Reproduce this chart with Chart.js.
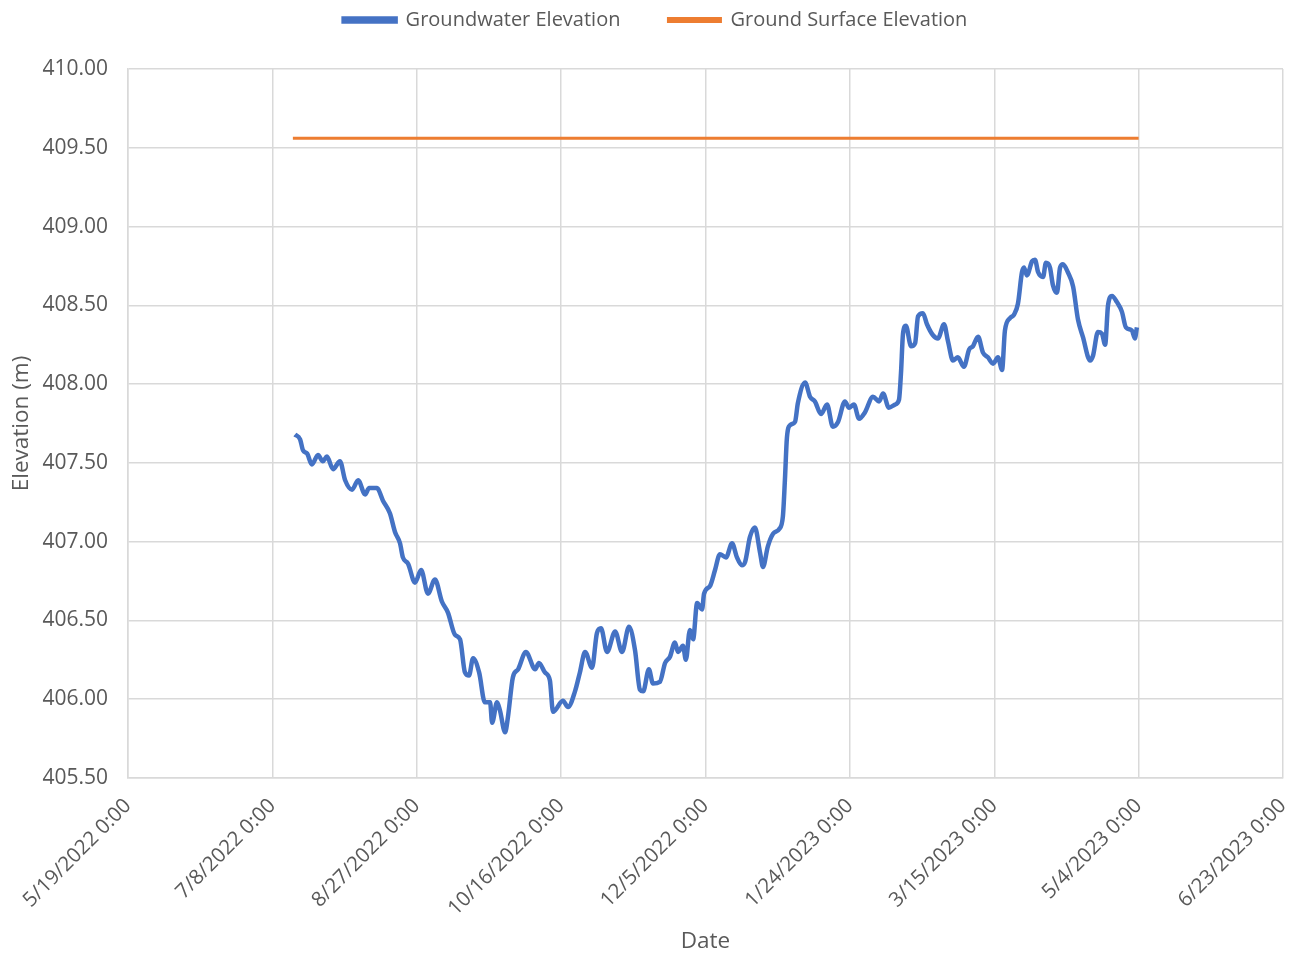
<!DOCTYPE html>
<html>
<head>
<meta charset="utf-8">
<title>Groundwater Elevation</title>
<script src="https://cdn.jsdelivr.net/npm/chart.js@4"></script>
<style>
  html, body { margin: 0; padding: 0; background: #fff; }
  #wrap { width: 1296px; height: 958px; }
</style>
</head>
<body>
<div id="wrap"><canvas id="chart" width="1296" height="958"></canvas></div>
<script>
// ── Data (days after 5/19/2022 0:00) ──────────────────────────────────────────

const tickLabels = [
  '5/19/2022 0:00', '7/8/2022 0:00', '8/27/2022 0:00', '10/16/2022 0:00', '12/5/2022 0:00',
  '1/24/2023 0:00', '3/15/2023 0:00', '5/4/2023 0:00', '6/23/2023 0:00'
];

const gwDays = [
  57.8, 59.6, 60.6, 62.0, 63.7, 65.8, 67.5, 68.9, 71.0, 73.4, 75.2, 77.6, 79.7, 82.1, 83.5, 86.2,
  88.3, 90.7, 92.5, 94.2, 95.2, 97.0, 99.4, 101.5, 103.9, 106.3, 108.7, 110.8, 113.2, 115.0, 116.7,
  118.1, 119.5, 121.6, 123.6, 125.4, 126.1, 127.8, 128.8, 130.6, 131.6, 133.3, 135.1, 137.8, 141.0,
  142.3, 144.4, 146.1, 147.2, 150.6, 152.4, 154.8, 156.5, 158.3, 160.7, 162.4, 163.8, 165.9, 168.7,
  171.1, 173.5, 175.6, 177.3, 178.4, 180.4, 181.8, 184.2, 186.0, 187.7, 189.4, 190.5, 192.2, 193.2,
  194.6, 195.7, 197.1, 198.8, 199.5, 201.6, 203.3, 205.0, 207.1, 209.2, 210.9, 212.6, 213.7, 215.4,
  217.1, 218.9, 219.9, 221.6, 223.4, 225.5, 226.8, 227.5, 228.2, 229.3, 231.0, 232.0, 234.5, 236.2,
  237.9, 240.0, 242.1, 244.1, 245.9, 248.3, 249.7, 251.4, 253.2, 255.2, 258.0, 260.1, 261.5, 263.5,
  265.6, 267.0, 267.7, 268.4, 269.4, 271.2, 272.6, 273.6, 275.3, 276.7, 278.8, 280.5, 282.6, 284.0,
  285.7, 287.4, 289.5, 291.3, 292.6, 294.4, 296.1, 297.8, 299.6, 301.3, 302.7, 303.7, 305.5, 306.8,
  308.2, 309.6, 310.3, 311.3, 313.1, 314.1, 315.2, 316.9, 317.9, 319.3, 320.3, 321.7, 322.8, 323.8,
  325.5, 327.3, 329.0, 330.7, 333.2, 334.2, 335.9, 337.3, 338.4, 339.4, 340.8, 342.5, 344.2, 345.6,
  347.7, 348.7, 349.4
];

const gwElevation = [
  407.68, 407.65, 407.58, 407.56, 407.49, 407.55, 407.51, 407.54, 407.46, 407.51, 407.39, 407.33, 407.39, 407.30, 407.34, 407.34,
  407.26, 407.18, 407.06, 406.99, 406.90, 406.86, 406.74, 406.82, 406.67, 406.76, 406.62, 406.55, 406.41, 406.38, 406.17,
  406.15, 406.26, 406.17, 405.98, 405.98, 405.85, 405.98, 405.93, 405.79, 405.89, 406.14, 406.19, 406.30, 406.19,
  406.23, 406.17, 406.12, 405.92, 405.99, 405.95, 406.05, 406.17, 406.30, 406.20, 406.42, 406.45, 406.30, 406.43,
  406.30, 406.46, 406.31, 406.06, 406.05, 406.19, 406.10, 406.11, 406.23, 406.27, 406.36, 406.30, 406.34, 406.25,
  406.44, 406.38, 406.61, 406.57, 406.67, 406.72, 406.82, 406.92, 406.90, 406.99, 406.90, 406.85, 406.87, 407.03,
  407.09, 406.93, 406.84, 406.97, 407.05, 407.08, 407.16, 407.39, 407.66, 407.74, 407.76, 407.88, 408.01, 407.92,
  407.89, 407.81, 407.87, 407.73, 407.76, 407.89, 407.85, 407.87, 407.78, 407.82, 407.92, 407.89, 407.94, 407.85,
  407.87, 407.90, 408.07, 408.32, 408.37, 408.24, 408.26, 408.43, 408.45, 408.38, 408.31, 408.29, 408.38, 408.27,
  408.15, 408.17, 408.11, 408.22, 408.24, 408.30, 408.20, 408.17, 408.13, 408.17, 408.09, 408.34, 408.42, 408.44,
  408.51, 408.71, 408.74, 408.69, 408.78, 408.79, 408.71, 408.68, 408.77, 408.74, 408.63, 408.58, 408.74, 408.76,
  408.71, 408.62, 408.41, 408.30, 408.15, 408.18, 408.33, 408.32, 408.25, 408.50, 408.56, 408.52, 408.46, 408.36,
  408.34, 408.29, 408.36
];

const surfaceDays = [57.1, 350];
const surfaceElevation = [409.56, 409.56];

// ── Chart ─────────────────────────────────────────────────────────────────────

const TEXT = '#595959';
const GRID = '#d9d9d9';
const FONT = "'Open Sans', 'DejaVu Sans', sans-serif";

const toPoints = (xs, ys) => xs.map((x, i) => ({ x, y: ys[i] }));

// keep legend compact at the top, leave a gap before the plot area
const legendSpacing = {
  id: 'legendSpacing',
  beforeLayout(chart) {
    const legend = chart.legend;
    if (!legend || legend._patched) return;
    const fit = legend.fit;
    legend.fit = function () { fit.call(this); this.height = 69; };
    legend._patched = true;
  },
  afterLayout(chart) {
    const legend = chart.legend;
    legend.top = -38;
    legend.left += 14;
    legend.right += 14;
  }
};

new Chart(document.getElementById('chart'), {
  type: 'line',
  data: {
    datasets: [
      {
        label: 'Groundwater Elevation',
        data: toPoints(gwDays, gwElevation),
        borderColor: '#4472c4',
        backgroundColor: '#4472c4',
        borderWidth: 4.5,
        pointRadius: 0,
        cubicInterpolationMode: 'monotone',
      },
      {
        label: 'Ground Surface Elevation',
        data: toPoints(surfaceDays, surfaceElevation),
        borderColor: '#ed7d31',
        backgroundColor: '#ed7d31',
        borderWidth: 3,
        pointRadius: 0,
      }
    ]
  },
  plugins: [legendSpacing],
  options: {
    responsive: false,
    animation: false,
    layout: { padding: { left: 0, right: 13, top: 0, bottom: 0 } },
    plugins: {
      legend: {
        position: 'top',
        labels: {
          color: TEXT,
          font: { family: FONT, size: 20 },
          boxWidth: 52,
          boxHeight: 3,
          padding: 48,
        }
      },
      tooltip: { enabled: false },
    },
    scales: {
      x: {
        type: 'linear',
        min: 0, max: 400,
        afterBuildTicks: scale => {
          scale.ticks = tickLabels.map((_, i) => ({ value: i * 50 }));
        },
        afterFit: scale => {
          scale.height = 180;
          scale.paddingRight = 0;
        },
        ticks: {
          color: TEXT,
          font: { family: FONT, size: 20.5 },
          maxRotation: 45, minRotation: 45,
          padding: 16,
          autoSkip: false,
          callback: (v, i) => tickLabels[i],
        },
        grid: { color: GRID, lineWidth: 1.5, drawTicks: false },
        border: { color: GRID, width: 1.5 },
        title: {
          display: true, text: 'Date', color: TEXT,
          font: { family: FONT, size: 22.5 },
          padding: { top: 0, bottom: 3 },
        },
      },
      y: {
        min: 405.5, max: 410,
        ticks: {
          stepSize: 0.5,
          color: TEXT,
          font: { family: FONT, size: 21 },
          padding: 20,
          callback: v => v.toFixed(2),
        },
        afterFit: scale => { scale.width = 128; },
        grid: { color: GRID, lineWidth: 1.5, drawTicks: false },
        border: { color: GRID, width: 1.5 },
        title: {
          display: true, text: 'Elevation (m)', color: TEXT,
          font: { family: FONT, size: 22.5 },
          padding: { top: 8, bottom: 0 },
        },
      }
    }
  }
});
</script>
</body>
</html>
